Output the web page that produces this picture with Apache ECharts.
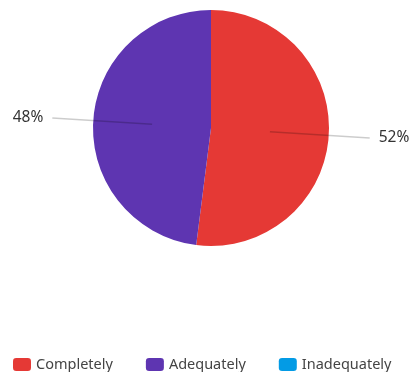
<!DOCTYPE html>
<html>
<head>
<meta charset="utf-8">
<script src="https://cdn.jsdelivr.net/npm/echarts@6/dist/echarts.min.js"></script>
<style>
  html, body { margin: 0; padding: 0; background: #fff; }
  #chart { width: 411px; height: 372px; }
</style>
</head>
<body>
<div id="chart"></div>
<script>
// Response shares per category
const categories = ['Completely', 'Adequately', 'Inadequately'];
const shares = [52, 48, 0];
const colors = ['#e53935', '#5e35b1', '#039be5'];

const chart = echarts.init(document.getElementById('chart'), null, { renderer: 'canvas' });

const pieData = categories.map((name, i) => ({ name, value: shares[i] }));
const center = [211, 128];
const font = '"Noto Sans", sans-serif';

chart.setOption({
  animation: false,
  color: colors,
  legend: {
    data: categories,
    left: 13,
    top: 357,
    padding: 0,
    icon: 'roundRect',
    itemWidth: 18,
    itemHeight: 13,
    itemGap: 33,
    textStyle: { fontSize: 14.5, color: '#444', fontFamily: font }
  },
  series: [
    {
      type: 'pie',
      z: 2,
      center: center,
      radius: 118,
      startAngle: 90,
      clockwise: true,
      data: pieData,
      label: { show: false },
      labelLine: { show: false },
      itemStyle: { borderWidth: 0 },
      emphasis: { disabled: true }
    },
    {
      // percentage labels, with leader lines reaching into the slices
      type: 'pie',
      z: 3,
      center: center,
      radius: 59,
      startAngle: 90,
      clockwise: true,
      legendHoverLink: false,
      silent: true,
      bleedMargin: 0,
      data: pieData.filter(d => d.value > 0),
      itemStyle: { color: 'rgba(0,0,0,0)', borderWidth: 0 },
      label: {
        show: true,
        formatter: p => p.value + '%',
        fontSize: 15.5,
        color: '#333',
        fontFamily: font,
        overflow: 'none',
        padding: [6, 0, 0, 0],
        distanceToLabelLine: 9
      },
      labelLine: {
        show: true,
        length: 100,
        length2: 0,
        smooth: false,
        lineStyle: { color: 'rgba(0,0,0,0.2)', width: 1.5 }
      },
      emphasis: { disabled: true }
    }
  ]
});
</script>
</body>
</html>
